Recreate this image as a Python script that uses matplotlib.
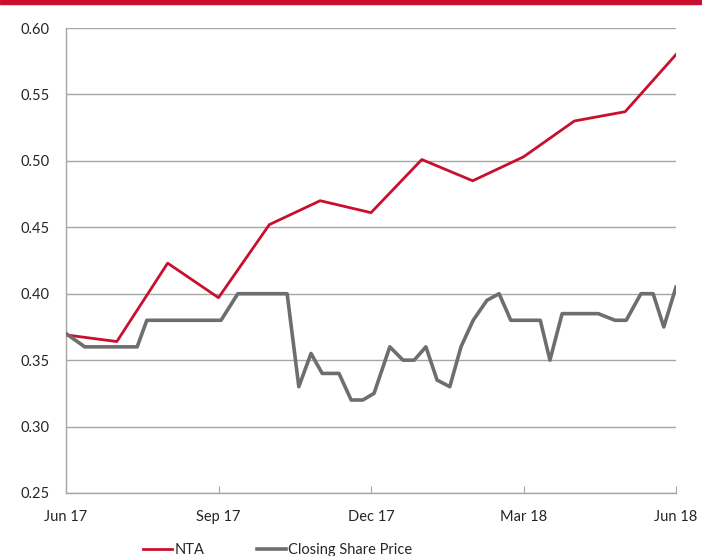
import matplotlib
matplotlib.use("Agg")
import matplotlib.pyplot as plt
from matplotlib.patches import Rectangle

# x positions are months since Jun 17
nta_months = list(range(13))
nta_values = [0.369, 0.364, 0.423, 0.397, 0.452, 0.470, 0.461,
              0.501, 0.485, 0.503, 0.530, 0.537, 0.580]

price_months = [0.0, 0.37, 1.40, 1.59, 3.05, 3.38, 4.35, 4.58, 4.82, 5.04,
                5.37, 5.61, 5.84, 6.06, 6.37, 6.63, 6.85, 7.08, 7.30, 7.55,
                7.77, 8.01, 8.28, 8.52, 8.75, 9.33, 9.52, 9.76, 10.47, 10.80,
                11.02, 11.31, 11.55, 11.76, 12.0]
price_values = [0.370, 0.360, 0.360, 0.380, 0.380, 0.400, 0.400, 0.330, 0.355, 0.340,
                0.340, 0.320, 0.320, 0.325, 0.360, 0.350, 0.350, 0.360, 0.335, 0.330,
                0.360, 0.380, 0.395, 0.400, 0.380, 0.380, 0.350, 0.385, 0.385, 0.380,
                0.380, 0.400, 0.400, 0.375, 0.405]

tick_months = [0, 3, 6, 9, 12]
tick_labels = ["Jun 17", "Sep 17", "Dec 17", "Mar 18", "Jun 18"]
y_ticks = [0.25, 0.30, 0.35, 0.40, 0.45, 0.50, 0.55, 0.60]

RED = "#C8102E"
GREY = "#6E6E6E"
GRID = "#A6A6A6"

plt.rcParams["font.family"] = ["Lato", "DejaVu Sans"]

fig = plt.figure(figsize=(7.02, 5.56), dpi=100)
ax = fig.add_axes([66 / 702, 1 - 493 / 556, 610 / 702, 465 / 556])

# red band across the top of the page
fig.patches.append(Rectangle((0, 1 - 4 / 556), 1, 4 / 556, transform=fig.transFigure,
                             color=RED, zorder=5))

ax.plot(nta_months, nta_values, color=RED, lw=2.0, label="NTA", zorder=3)
ax.plot(price_months, price_values, color=GREY, lw=2.6, label="Closing Share Price", zorder=3)

ax.set_xlim(0, 12)
ax.set_ylim(0.25, 0.60)
ax.set_yticks(y_ticks)
ax.set_yticklabels([f"{v:.2f}" for v in y_ticks])
ax.set_xticks(tick_months)
ax.set_xticklabels(tick_labels)

ax.yaxis.grid(True, color=GRID, lw=1.0)
ax.set_axisbelow(True)
for s in ["top", "right"]:
    ax.spines[s].set_visible(False)
for s in ["left", "bottom"]:
    ax.spines[s].set_color(GRID)
    ax.spines[s].set_linewidth(1.0)

ax.tick_params(axis="y", length=0, pad=12, labelsize=10.5, labelcolor="#262626")
ax.tick_params(axis="x", direction="in", length=5, color=GRID, pad=12,
               labelsize=10.5, labelcolor="#262626")

fig.legend(loc="center left", bbox_to_anchor=(139 / 702, 1 - 550 / 556), ncol=2,
           frameon=False, fontsize=10.5, handlelength=1.95, handletextpad=0.2,
           columnspacing=3.6, labelcolor="#262626", borderaxespad=0, borderpad=0.3)

fig.savefig("out.png", dpi=100)
